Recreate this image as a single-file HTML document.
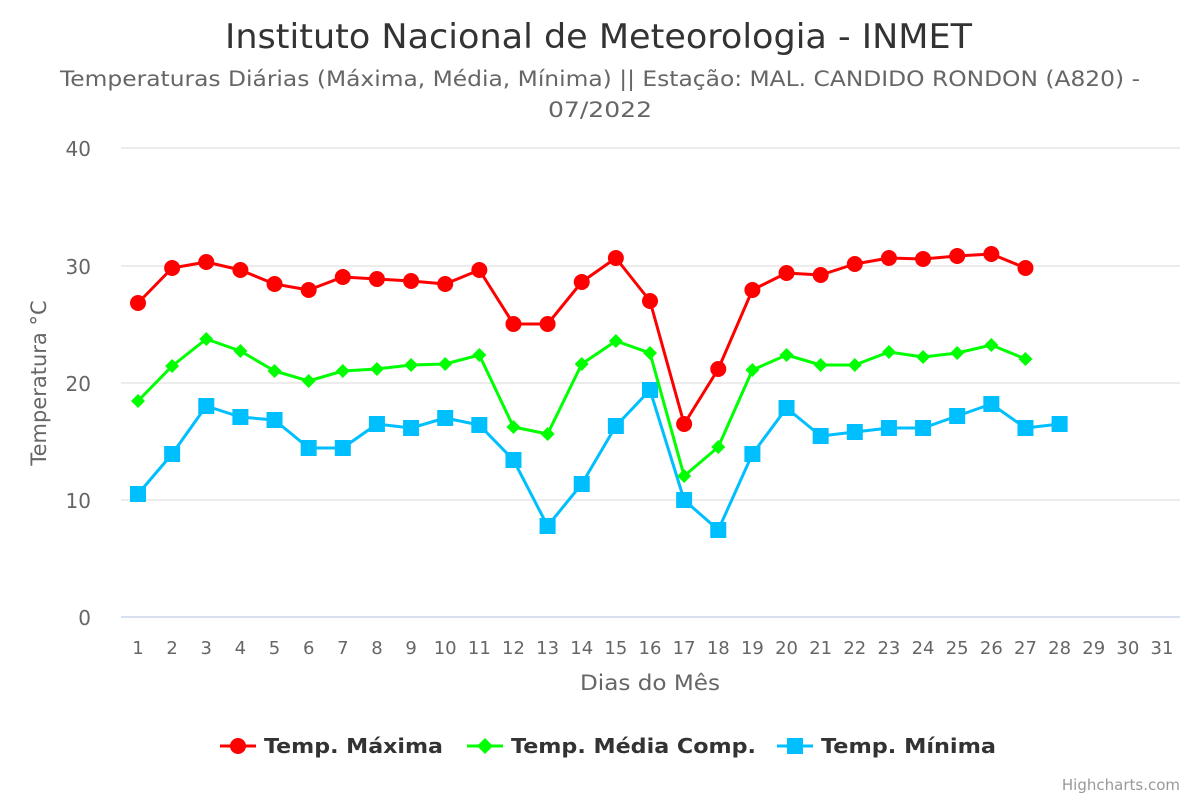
<!DOCTYPE html>
<html><head><meta charset="utf-8"><style>
html,body{margin:0;padding:0;background:#fff;}
svg{display:block;font-family:"DejaVu Sans","Liberation Sans",sans-serif;}
</style></head><body>
<svg id="s" width="1200" height="800" xmlns="http://www.w3.org/2000/svg">
<rect width="1200" height="800" fill="#fff"/>
<text x="225" y="48" textLength="747" lengthAdjust="spacingAndGlyphs" font-size="34" fill="#333">Instituto Nacional de Meteorologia - INMET</text>
<text x="60" y="86" textLength="1080" lengthAdjust="spacingAndGlyphs" font-size="21" fill="#666">Temperaturas Diárias (Máxima, Média, Mínima) || Estação: MAL. CANDIDO RONDON (A820) -</text>
<text x="548" y="117" textLength="104" lengthAdjust="spacingAndGlyphs" font-size="21" fill="#666">07/2022</text>
<g stroke="#e6e6e6" stroke-width="1.5">
<line x1="121" x2="1180" y1="148" y2="148"/><line x1="121" x2="1180" y1="266" y2="266"/>
<line x1="121" x2="1180" y1="383" y2="383"/><line x1="121" x2="1180" y1="500" y2="500"/>
</g>
<line x1="121" x2="1180" y1="617" y2="617" stroke="#ccd6eb" stroke-width="1.5"/>
<g font-size="20" fill="#666" text-anchor="end">
<text x="91" y="156">40</text><text x="91" y="274">30</text><text x="91" y="391">20</text><text x="91" y="508">10</text><text x="91" y="625">0</text>
</g>
<text transform="translate(46,383) rotate(-90)" text-anchor="middle" font-size="21" fill="#666">Temperatura °C</text>
<text x="580" y="690" textLength="140" lengthAdjust="spacingAndGlyphs" font-size="21" fill="#666">Dias do Mês</text>
<g id="xl" font-size="18" fill="#666" text-anchor="middle"></g>
<g id="ser"></g>
<g font-size="20" font-weight="bold" fill="#333">
<line x1="220" x2="256" y1="746" y2="746" stroke="#f00" stroke-width="3"/><circle cx="238" cy="746" r="8" fill="#f00"/>
<text x="264" y="753" textLength="179" lengthAdjust="spacingAndGlyphs">Temp. Máxima</text>
<line x1="467" x2="503" y1="746" y2="746" stroke="#0f0" stroke-width="3"/><path d="M485 738 L493 746 L485 754 L477 746Z" fill="#0f0"/>
<text x="511" y="753" textLength="245" lengthAdjust="spacingAndGlyphs">Temp. Média Comp.</text>
<line x1="777" x2="813" y1="746" y2="746" stroke="#00bfff" stroke-width="3"/><rect x="787" y="738" width="16" height="16" fill="#00bfff"/>
<text x="821" y="753" textLength="175" lengthAdjust="spacingAndGlyphs">Temp. Mínima</text>
</g>
<text x="1180" y="790" text-anchor="end" font-size="15" fill="#999">Highcharts.com</text>
</svg>
<script>
var NS="http://www.w3.org/2000/svg";
function X(d){return 138+(d-1)*1024/30;}
var xl=document.getElementById("xl");
for(var d=1;d<=31;d++){var t=document.createElementNS(NS,"text");t.setAttribute("x",X(d));t.setAttribute("y",654);t.textContent=d;xl.appendChild(t);}
var mx=[303,268,262,270,284,290,277,279,281,284,270,324,324,282,258,301,424,369,290,273,275,264,258,259,256,254,268];
var md=[401,366,339,351,371,381,371,369,365,364,355,427,434,364,341,353,476,447,370,355,365,365,352,357,353,345,359];
var mn=[494,454,406,417,420,448,448,424,428,418,425,460,526,484,426,390,500,530,454,408,436,432,428,428,416,404,428,424];
var g=document.getElementById("ser"),h="";
function ser(a,c,m){var p=a.map(function(y,i){return X(i+1)+","+y;}).join(" ");
h+='<polyline points="'+p+'" fill="none" stroke="'+c+'" stroke-width="3" stroke-linejoin="round"/>';
a.forEach(function(y,i){var x=X(i+1);
if(m==0)h+='<circle cx="'+x+'" cy="'+y+'" r="8" fill="'+c+'"/>';
else if(m==1)h+='<path d="M'+x+' '+(y-7)+' L'+(x+7)+' '+y+' L'+x+' '+(y+7)+' L'+(x-7)+' '+y+'Z" fill="'+c+'"/>';
else h+='<rect x="'+(x-8)+'" y="'+(y-8)+'" width="16" height="16" fill="'+c+'"/>';});}
ser(mn,"#00bfff",2);ser(md,"#00ff00",1);ser(mx,"#ff0000",0);
g.innerHTML=h;
</script>
</body></html>
